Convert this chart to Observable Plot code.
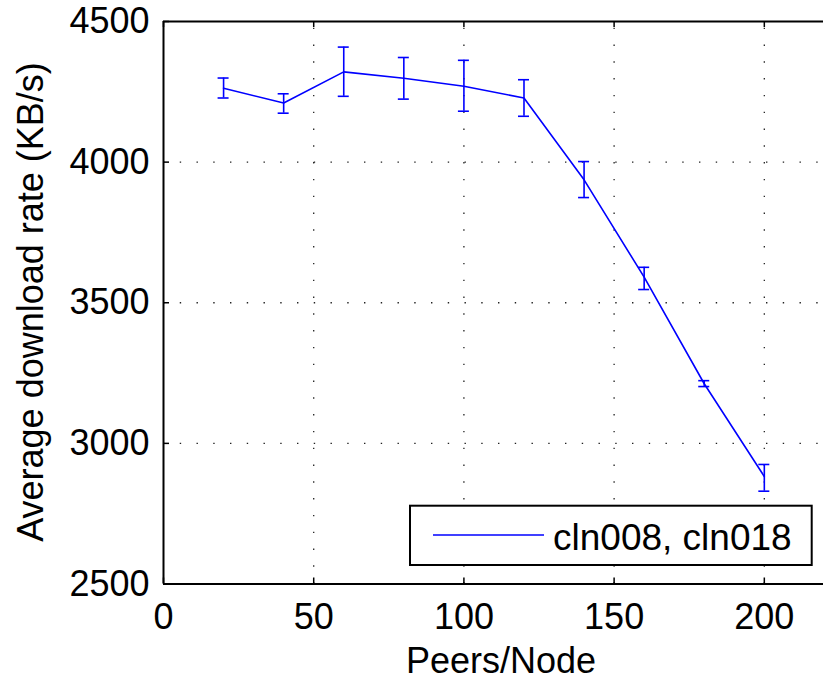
<!DOCTYPE html>
<html>
<head>
<meta charset="utf-8">
<script src="https://cdn.jsdelivr.net/npm/d3@7"></script>
<script src="https://cdn.jsdelivr.net/npm/@observablehq/plot@0.6"></script>
<style>
  html, body { margin: 0; padding: 0; background: white; }
  #chart { width: 823px; height: 680px; }
</style>
</head>
<body>
<div id="chart"></div>
<script>
// ---- data ----
const peers    = [20, 40, 60, 80, 100, 120, 140, 160, 180, 200];
const rate     = [4263, 4210, 4321, 4298, 4270, 4228, 3937, 3591, 3212, 2882];
const errLow   = [4228, 4174, 4234, 4224, 4181, 4163, 3874, 3547, 3202, 2830];
const errHigh  = [4299, 4243, 4409, 4372, 4362, 4293, 4002, 3626, 3223, 2925];
const xTicks   = [0, 50, 100, 150, 200];
const yTicks   = [2500, 3000, 3500, 4000, 4500];
const xGrid    = [50, 100, 150, 200];
const yGrid    = [3000, 3500, 4000];
const seriesName = "cln008, cln018";
const xLabel = "Peers/Node";
const yLabel = "Average download rate (KB/s)";

const data = peers.map((p, i) => ({x: p, y: rate[i], lo: errLow[i], hi: errHigh[i]}));

const W = 823, H = 680;
const mL = 163, mR = 0, mT = 21, mB = 96.5;
const xDomain = [0, 219.7], yDomain = [2500, 4500];
const pxPerX = (W - mL - mR) / (xDomain[1] - xDomain[0]);
const pxPerY = (H - mT - mB) / (yDomain[1] - yDomain[0]);
const tickLen = 6;         // px, inward
const capHalf = 5.5;       // px
const blue = "#0000ff";

const chart = Plot.plot({
  width: W, height: H,
  marginLeft: mL, marginRight: mR, marginTop: mT, marginBottom: mB,
  style: {fontFamily: "'Liberation Sans', Arial, Helvetica, sans-serif", fontSize: "36px", background: "white", color: "black"},
  x: {domain: xDomain},
  y: {domain: yDomain},
  marks: [
    // dotted grid
    Plot.ruleX(xGrid, {x: d => d, y1: yDomain[0], y2: yDomain[1], stroke: "#222", strokeWidth: 1.3, strokeDasharray: "1.4,15.4"}),
    Plot.ruleY(yGrid, {y: d => d, x1: xDomain[0], x2: xDomain[1], stroke: "#222", strokeWidth: 1.3, strokeDasharray: "1.4,15.35"}),
    // inward ticks
    Plot.ruleX(xTicks, {x: d => d, y1: yDomain[0], y2: yDomain[0] + tickLen / pxPerY, stroke: "black", strokeWidth: 1.5}),
    Plot.ruleX(xTicks, {x: d => d, y1: yDomain[1], y2: yDomain[1] - tickLen / pxPerY, stroke: "black", strokeWidth: 1.5}),
    Plot.ruleY(yTicks, {y: d => d, x1: xDomain[0], x2: xDomain[0] + tickLen / pxPerX, stroke: "black", strokeWidth: 1.5}),
    // axis frame (left, bottom, top)
    Plot.ruleX([xDomain[0]], {y1: yDomain[0], y2: yDomain[1], stroke: "black", strokeWidth: 2}),
    Plot.ruleY([yDomain[0]], {x1: xDomain[0], x2: xDomain[1], stroke: "black", strokeWidth: 2}),
    Plot.ruleY([yDomain[1]], {x1: xDomain[0], x2: xDomain[1], stroke: "black", strokeWidth: 2}),
    // error bars
    Plot.ruleX(data, {x: "x", y1: "lo", y2: "hi", stroke: blue, strokeWidth: 1.6}),
    Plot.ruleY(data, {y: "lo", x1: d => d.x - capHalf / pxPerX, x2: d => d.x + capHalf / pxPerX, stroke: blue, strokeWidth: 1.6}),
    Plot.ruleY(data, {y: "hi", x1: d => d.x - capHalf / pxPerX, x2: d => d.x + capHalf / pxPerX, stroke: blue, strokeWidth: 1.6}),
    // line
    Plot.line(data, {x: "x", y: "y", stroke: blue, strokeWidth: 1.6}),
    // axes labels
    Plot.axisX({ticks: xTicks, tickSize: 0, tickPadding: 19, fontSize: 36, label: null, tickFormat: d => String(d)}),
    Plot.axisY({ticks: yTicks, tickSize: 0, tickPadding: 14, fontSize: 36, label: null, tickFormat: d => String(d)})
  ]
});

document.getElementById("chart").appendChild(chart);

// axis titles and legend
const svg = d3.select(chart);
const ff = "'Liberation Sans', Arial, Helvetica, sans-serif";
svg.append("text")
  .attr("x", 501).attr("y", 673)
  .attr("text-anchor", "middle")
  .attr("font-family", ff).attr("font-size", 36).attr("fill", "black")
  .text(xLabel);
svg.append("text")
  .attr("transform", "translate(43,302) rotate(-90)")
  .attr("text-anchor", "middle")
  .attr("font-family", ff).attr("font-size", 36).attr("fill", "black")
  .text(yLabel);

const lg = svg.append("g");
lg.append("rect")
  .attr("x", 410).attr("y", 505.7).attr("width", 401.7).attr("height", 59.3)
  .attr("fill", "white").attr("stroke", "black").attr("stroke-width", 2);
lg.append("line")
  .attr("x1", 433).attr("x2", 544).attr("y1", 535).attr("y2", 535)
  .attr("stroke", blue).attr("stroke-width", 1.6);
lg.append("text")
  .attr("x", 553).attr("y", 550)
  .attr("text-anchor", "start")
  .attr("font-family", ff).attr("font-size", 37).attr("fill", "black")
  .text(seriesName);
</script>
</body>
</html>
